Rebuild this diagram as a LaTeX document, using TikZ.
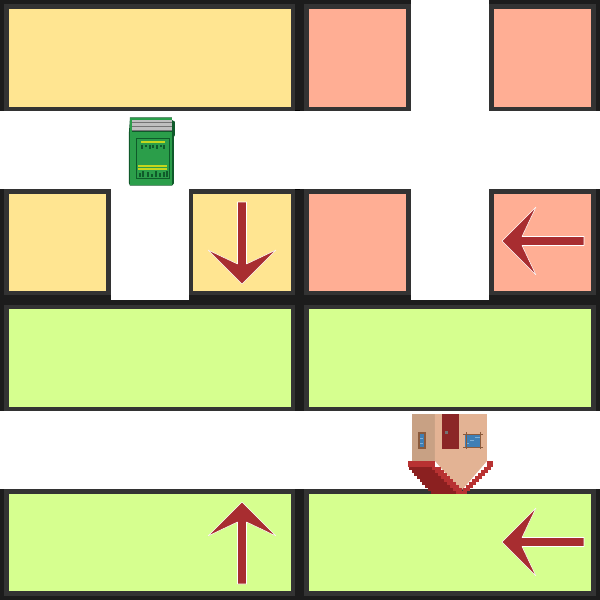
\documentclass[tikz,border=0pt]{standalone}
\definecolor{wallDark}{HTML}{1C1C1C}
\definecolor{wallEdge}{HTML}{333333}
\definecolor{roomYellow}{HTML}{FFE591}
\definecolor{roomPink}{HTML}{FFAE94}
\definecolor{roomGreen}{HTML}{D6FF8F}
\definecolor{pointerRed}{HTML}{A82D30}
\definecolor{bookGreen}{HTML}{2B9E4A}
\definecolor{bookDark}{HTML}{0F5A2A}
\definecolor{bookGold}{HTML}{C4D61E}
\definecolor{houseShade}{HTML}{C8A184}
\definecolor{houseWall}{HTML}{E3B394}
\definecolor{houseDoor}{HTML}{8B2626}
\definecolor{houseFrame}{HTML}{8A5A3C}
\definecolor{houseGlass}{HTML}{3F7FB5}
\definecolor{houseStreak}{HTML}{7FB0D8}
\definecolor{roofRed}{HTML}{B83232}
\definecolor{roofDark}{HTML}{8B2020}
\tikzset{
    pointer/.style={fill=pointerRed,draw=white,line width=0.3pt,line join=round},
    wallband/.style={fill=wallDark},
}
% room: fill colour, outer corners, inner corners
\newcommand{\room}[5]{
    \fill[wallEdge] (#2) rectangle (#3);
    \fill[#1] (#4) rectangle (#5);
}
% pointer: centre and angle, drawn facing left at angle 0
\newcommand{\pointerat}[3]{
    \filldraw[pointer,shift={(#1,#2)},rotate=#3]
        (-41,0) -- (-7,34) -- (-21,4.5) -- (41,4.5) -- (41,-4.5) -- (-21,-4.5) -- (-7,-34) -- cycle;
}
\begin{document}
\begin{tikzpicture}[x=0.02cm,y=-0.02cm]
    \useasboundingbox (0,0) rectangle (600,600);

    % Outer walls
    \foreach \xa/\ya/\xb/\yb in {0/0/411/4, 489/0/600/4, 0/0/4/111, 295/0/304/111, 596/0/600/111,
        0/189/4/411, 295/189/304/411, 596/189/600/411,
        0/489/4/600, 295/489/304/600, 596/489/600/600, 0/596/600/600} {
        \fill[wallband] (\xa,\ya) rectangle (\xb,\yb);
    }
    \fill[wallband] (0,295) rectangle (111,305);
    \fill[wallband] (189,295) rectangle (411,305);
    \fill[wallband] (489,295) rectangle (600,305);
    \fill[wallband] (111,300) rectangle (189,305);
    \fill[wallband] (411,300) rectangle (489,305);
    \fill[black] (295,110) rectangle (300,111);
    \fill[black] (295,189) rectangle (300,190);

    % Rooms
    \room{roomYellow}{4,4}{295,111}{9,9}{291,107}
    \room{roomPink}{304,4}{411,111}{309,9}{406,107}
    \room{roomPink}{489,4}{596,111}{494,9}{591,107}
    \room{roomYellow}{4,189}{111,295}{9,194}{106,291}
    \room{roomYellow}{189,189}{295,295}{193,194}{291,291}
    \room{roomPink}{304,189}{411,295}{309,194}{406,291}
    \room{roomPink}{489,189}{596,295}{494,194}{591,291}
    \room{roomGreen}{4,305}{295,411}{9,309}{291,407}
    \room{roomGreen}{304,305}{596,411}{309,309}{591,407}
    \room{roomGreen}{4,489}{295,596}{9,494}{291,591}
    \room{roomGreen}{304,489}{596,596}{309,494}{591,591}

    % Pointers
    \pointerat{242}{243}{90}
    \pointerat{543}{241}{0}
    \pointerat{242}{543}{-90}
    \pointerat{543}{542}{0}

    % Book
    \fill[bookDark] (130,117.3) -- (172,117.3) -- (172,120) -- (175,121.7) -- (175,135) -- (174,136.7)
        -- (174,183.3) -- (172,185.7) -- (130,185.7) -- (129,183.3) -- (129,131.7) -- cycle;
    \fill[bookGreen] (130.5,118) rectangle (172,120);
    \fill[bookGreen] (130.5,118) rectangle (132,132);
    \fill[bookGreen] (130,132) rectangle (172,185);
    \fill[black!25] (132,120) rectangle (172,131);
    \foreach \y in {122,126,130} {
        \fill[black!55] (132,\y) rectangle (172,\y+1);
    }
    \fill[bookDark] (136,138.3) rectangle (170,179);
    \fill[bookGreen] (137,139.3) rectangle (169,178);
    \fill[bookGold] (141,141) rectangle (165,143);
    \fill[bookGold] (138,165) rectangle (167,167);
    \fill[bookGold] (138,168) rectangle (167,170);
    \foreach \x/\h in {141/4,145/2.5,149/4.5,152/3,156/4.5,160/2.5,163/4.5} {
        \fill[bookDark] (\x,144.5) rectangle (\x+2.5,144.5+\h);
    }
    \foreach \x/\h in {139/4,142/6,147/5,151/3,155/6,159/4,163/5,166/6} {
        \fill[bookDark] (\x,177-\h) rectangle (\x+2.5,177);
    }

    % House
    \fill[houseShade] (412,414) rectangle (435,461);
    \fill[houseWall] (435,414) -- (487,414) -- (487,461) -- (461,491) -- (435,461) -- cycle;
    \fill[houseDoor] (442,414) rectangle (459,449);
    \fill[black!55] (445,431) rectangle (448,434);
    \fill[houseFrame] (418,432) rectangle (426,449);
    \fill[houseGlass] (420,434) rectangle (424,447);
    \fill[houseStreak] (420,438) rectangle (423,439);
    \fill[houseStreak] (420,443) rectangle (423,444);
    \fill[houseGlass] (465,434) rectangle (481,447);
    \fill[houseStreak] (475,437) rectangle (480,438);
    \fill[houseStreak] (470,440) rectangle (474,441);
    \fill[houseStreak] (466,443) rectangle (469,444);
    \fill[houseFrame] (466,432) rectangle (467,449);
    \fill[houseFrame] (480,432) rectangle (481,449);
    \fill[houseFrame] (463,433.5) rectangle (483,434.5);
    \fill[houseFrame] (463,446.5) rectangle (483,447.5);
    \foreach \i in {0,...,8} {
        \fill[roofDark] ({409+2.7*\i},{467+3*\i}) rectangle ({434+3*\i},{470.3+3*\i});
        \fill[roofRed] ({432+3*\i},{467+3*\i}) rectangle ({441+3*\i},{470.3+3*\i});
        \fill[roofRed] ({484-3*\i},{467+3*\i}) rectangle ({491-3*\i},{470.3+3*\i});
    }
    \fill[roofRed] (408,461) rectangle (435,467.3);
    \fill[roofRed] (487,461) rectangle (493,467.3);
\end{tikzpicture}
\end{document}
